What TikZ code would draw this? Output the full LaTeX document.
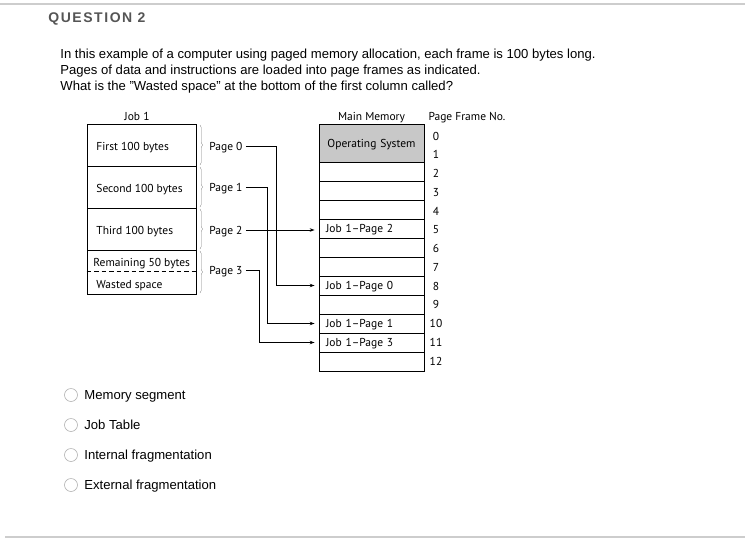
\documentclass[tikz,border=0pt]{standalone}
\usepackage{fontspec}
\setmainfont{Liberation Sans}
\newfontfamily\figfont{PT Sans}
\newfontfamily\headfont[LetterSpace=11]{Liberation Sans}
\usetikzlibrary{arrows.meta,decorations.pathreplacing}
\definecolor{osgray}{RGB}{200,200,200}
\definecolor{rulegray}{RGB}{205,205,205}
\definecolor{headgray}{RGB}{85,85,85}
\tikzset{
  lbl/.style={anchor=west, inner sep=0pt, text depth=0pt, font=\figfont\fontsize{11.5}{13}\selectfont},
  title/.style={inner sep=0pt, text depth=0pt, font=\figfont\fontsize{11.5}{13}\selectfont},
  jobbox/.style={draw, minimum width=109pt, inner sep=0pt},
  framebox/.style={draw, minimum width=105pt, minimum height=19pt, text width=91pt, inner sep=0pt, text depth=0pt, align=left, font=\figfont\fontsize{11.5}{13}\selectfont},
  membrace/.style={draw=gray, line width=0.4pt, decorate, decoration={brace, amplitude=2.5pt}},
  link/.style={->, shorten <=3pt, shorten >=4pt},
  radio/.style={circle, draw=gray!60, line width=0.6pt, minimum size=13pt, inner sep=0pt},
  opt/.style={anchor=west, inner sep=0pt, text depth=0pt, font=\fontsize{13.1}{15}\selectfont}
}
\begin{document}
\begin{tikzpicture}[x=1pt, y=-1pt, >={Stealth[length=5pt, width=3.5pt]}, line width=0.8pt]
\useasboundingbox (0,0) rectangle (745,539);
\draw[rulegray, line width=1.5pt] (0,4) -- (745,4);
\draw[rulegray, line width=1.5pt] (5,537) -- (745,537);
\node[anchor=west, inner sep=0pt, text depth=0pt, text=headgray, font=\headfont\bfseries\fontsize{14}{16}\selectfont] (head) at (48,18) {QUESTION 2};
\node[anchor=north west, inner sep=0pt, align=left, font=\fontsize{13.1}{16}\selectfont] (ask) at (60,49) {In this example of a computer using paged memory allocation, each frame is 100 bytes long.\\Pages of data and instructions are loaded into page frames as indicated.\\What is the \symbol{34}Wasted space\symbol{34} at the bottom of the first column called?};

\node[title] (jobtitle) at (137,116) {Job 1};
\node[jobbox, minimum height=42pt] (j0) at (141.5,145) {};
\node[jobbox, minimum height=42pt] (j1) at (141.5,187) {};
\node[jobbox, minimum height=42pt] (j2) at (141.5,229) {};
\node[jobbox, minimum height=44pt] (j3) at (141.5,272) {};
\draw[dash pattern=on 4.5pt off 3pt] ([yshift=1pt]j3.west) -- ([yshift=1pt]j3.east);
\node[lbl] (t0) at (96,146) {First 100 bytes};
\node[lbl] (t1) at (96,188) {Second 100 bytes};
\node[lbl] (t2) at (96,230) {Third 100 bytes};
\node[lbl] (t3) at (93,262) {Remaining 50 bytes};
\node[lbl] (t4) at (96,284) {Wasted space};
\foreach \a/\b in {124/166,166/208,208/250,250/294}
  \draw[membrace] (200,\a+1) -- (200,\b-1);
\node[lbl] (pg0) at (209,146) {Page 0};
\node[lbl] (pg1) at (209,187) {Page 1};
\node[lbl] (pg2) at (209,230) {Page 2};
\node[lbl] (pg3) at (209,270) {Page 3};

\node[title] (memtitle) at (371.5,116) {Main Memory};
\node[title] (nrtitle) at (467,116) {Page Frame No.};
\node[framebox, fill=osgray, align=center, minimum height=38pt] (os) at (371.5,143) {Operating System};
\foreach \i/\txt in {2/,3/,4/,5/Job 1–Page 2,6/,7/,8/Job 1–Page 0,9/,10/Job 1–Page 1,11/Job 1–Page 3,12/}
  \node[framebox] (m\i) at (371.5,133.5+19*\i) {\txt};
\foreach \i in {0,...,12}
  \node[title] (n\i) at (436,136+18.75*\i) {\i};

\coordinate (bend0) at (276,0);
\coordinate (bend1) at (267,0);
\coordinate (bend3) at (259,0);
\draw[link] (pg0.east) -| (bend0 |- m8.west) -- (m8.west);
\draw[link] (pg1.east) -| (bend1 |- m10.west) -- (m10.west);
\draw[link] (pg2.east) -- (pg2.east -| m5.west);
\draw[link] (pg3.east) -| (bend3 |- m11.west) -- (m11.west);

\foreach \i/\txt in {0/Memory segment,1/Job Table,2/Internal fragmentation,3/External fragmentation} {
  \node[radio] (r\i) at (71,395+30*\i) {};
  \node[opt] (o\i) at (84,395+30*\i) {\txt};
}
\end{tikzpicture}
\end{document}
